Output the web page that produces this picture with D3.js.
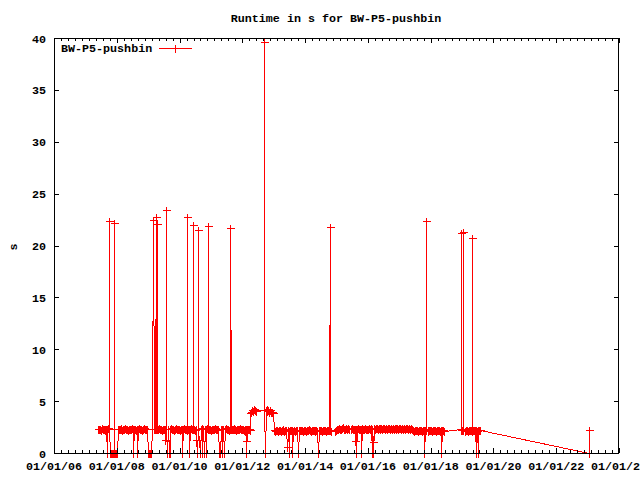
<!DOCTYPE html>
<html><head><meta charset="utf-8">
<script src="https://cdn.jsdelivr.net/npm/d3@7"></script>
<style>
body{margin:0;background:#fff}
text{font-family:"Liberation Mono","DejaVu Sans Mono",monospace;font-weight:bold;font-size:11.7px;fill:#000}
</style>
</head><body>
<svg id="c" width="640" height="480" xmlns="http://www.w3.org/2000/svg"></svg>
<script>
// ---- labels ----
const chartTitle = "Runtime in s for BW-P5-pushbin";
const seriesName = "BW-P5-pushbin";
const yAxisLabel = "s";
const xRange = [2006, 2024];           // years
const yRange = [0, 40];
const yTickValues = [0, 5, 10, 15, 20, 25, 30, 35, 40];
const xTickYears = [2006, 2008, 2010, 2012, 2014, 2016, 2018, 2020, 2022, 2024];

// ---- data: run dates (decimal years) and runtimes (s), per period ----
const dates2007to2012 = [
 2007.40,2007.43,2007.46,2007.49,2007.52,2007.55,2007.58,2007.61,2007.64,2007.67,
 2007.675,2007.70,2007.73,2007.748,2007.752,2007.756,2007.79,2007.82,2007.85,2007.88,
 2007.907,2007.911,2007.915,2007.94,2007.97,2008.00,2008.03,2008.06,2008.09,2008.12,
 2008.15,2008.18,2008.21,2008.24,2008.27,2008.30,2008.33,2008.36,2008.39,2008.42,
 2008.45,2008.48,2008.51,2008.525,2008.54,2008.57,2008.60,2008.63,2008.65,2008.66,
 2008.69,2008.72,2008.75,2008.78,2008.81,2008.84,2008.87,2008.90,2008.93,2008.96,
 2008.99,2009.02,2009.05,2009.08,2009.10,2009.12,2009.154,2009.185,2009.216,2009.249,
 2009.253,2009.277,2009.281,2009.285,2009.32,2009.35,2009.38,
 2009.41,2009.44,2009.47,2009.50,2009.53,2009.54,2009.564,2009.568,2009.572,2009.61,
 2009.62,2009.65,2009.68,2009.70,2009.71,2009.74,2009.77,2009.80,2009.83,2009.86,
 2009.89,2009.92,2009.95,2009.98,2010.01,2010.04,2010.07,2010.09,2010.10,2010.13,
 2010.16,2010.19,2010.22,2010.233,2010.237,2010.241,2010.28,2010.31,2010.315,2010.34,
 2010.37,2010.40,2010.424,2010.428,2010.432,2010.46,2010.49,2010.52,2010.525,2010.55,
 2010.583,2010.587,2010.591,2010.64,2010.67,2010.70,2010.73,2010.76,2010.79,2010.82,
 2010.83,2010.85,2010.88,2010.902,2010.906,2010.910,2010.94,2010.97,2011.00,2011.03,
 2011.06,2011.09,2011.12,2011.15,2011.18,2011.21,2011.24,2011.27,2011.30,2011.33,
 2011.35,2011.36,2011.39,2011.42,2011.45,2011.48,2011.51,2011.54,2011.57,2011.603,
 2011.607,2011.64,2011.66,2011.69,2011.72,2011.75,2011.78,
 2011.81,2011.84,2011.87,2011.90,2011.93,2011.96,2011.99,2012.02,2012.05,2012.08,
 2012.11,2012.12,2012.13,2012.14,2012.17,2012.20,2012.23
];
const times2007to2012 = [
 2.3,2.35,2.3,2.25,2.4,2.3,2.35,2.25,2.3,2.35,
 0,2.3,2.4,2.3,22.4,2.3,0,0,0,0,
 0,22.2,0,0,0,0,2.3,2.35,2.3,2.4,
 2.3,2.25,2.35,2.3,2.4,2.3,2.35,2.25,2.3,2.35,
 2.3,2.4,2.3,0,2.35,2.3,2.25,2.3,0,2.35,
 2.3,2.4,2.3,2.35,2.25,2.3,2.4,2.3,2.35,2.3,
 0,0,0,0,0,2.3,22.5,2.3,2.3,22.7,
 2.35,2.3,22.1,2.3,2.3,2.4,2.3,
 2.35,2.25,2.3,2.35,2.3,1.25,2.3,23.45,2.35,0,
 2.3,0,2.35,0,2.3,2.4,2.3,2.35,2.25,2.3,
 2.4,2.3,2.35,2.3,2.25,2.3,2.35,0,2.3,2.4,
 2.3,2.35,2.3,2.25,22.7,2.3,2.3,2.35,0,2.3,
 2.4,2.3,2.35,22.0,2.3,2.3,2.25,2.3,1.3,0,
 2.35,21.5,2.3,0,2.3,2.4,0,2.3,0,2.35,
 0,2.3,2.4,2.3,21.9,2.35,2.35,2.3,2.25,2.3,
 2.35,2.3,2.4,2.3,2.35,2.25,2.3,0,0,2.3,
 0,2.35,2.3,0,2.3,2.4,2.3,2.35,2.25,2.3,
 21.7,2.3,2.35,2.3,2.4,2.3,2.35,
 2.25,2.3,2.35,2.3,2.4,2.3,2.35,2.3,2.25,2.3,
 1.2,2.3,0,2.3,2.35,2.3,2.25
];
const dates2012to2013 = [
 2012.26,2012.29,2012.32,2012.35,2012.38,2012.41,2012.44,2012.686,2012.690,2012.694,
 2012.72,2012.74,2012.77,2012.80,2012.83,2012.86,2012.89,2012.92,2012.95,2012.98
];
const times2012to2013 = [
 3.9,4.0,4.1,4.05,4.2,4.1,4.05,4.1,39.6,4.1,
 0,4.1,4.2,4.05,4.1,4.0,4.15,4.0,3.95,3.85
];
const dates2013to2014 = [
 2013.01,2013.04,2013.07,2013.10,2013.13,2013.16,2013.19,2013.22,2013.25,2013.28,
 2013.31,2013.34,2013.37,2013.40,2013.43,2013.46,2013.48,2013.49,2013.52,2013.55,
 2013.58,2013.59,2013.61,2013.64,2013.67,2013.70,2013.73,2013.76,2013.79,2013.82,
 2013.85,2013.88,2013.91,2013.94,2013.97,2014.00,2014.03,2014.06,2014.09,2014.12,
 2014.15,2014.18,2014.21,2014.24,2014.27,2014.30,2014.33,2014.36,2014.39,2014.42,
 2014.45,2014.48,2014.51,2014.54,2014.57,2014.60,2014.63,2014.66,2014.69,2014.72,
 2014.76,2014.793,2014.797,2014.81
];
const times2013to2014 = [
 2.2,2.15,2.25,2.2,2.1,2.2,2.25,2.15,2.2,2.3,
 2.2,2.15,2.2,2.25,0.6,2.2,0,2.15,2.2,2.25,
 2.2,0,2.15,2.2,2.1,2.2,2.25,0,2.2,2.15,
 2.2,2.25,2.2,2.1,2.2,2.25,2.15,2.2,2.2,2.3,
 2.2,2.15,2.2,2.25,2.2,2.1,2.2,2.25,2.15,0,
 2.2,2.25,2.2,2.15,2.2,2.25,2.2,2.1,2.2,2.25,
 2.25,21.8,2.2,2.15
];
const dates2015to2017 = [
 2014.96,2014.99,2015.02,2015.05,2015.08,2015.11,2015.14,2015.17,2015.20,2015.23,
 2015.26,2015.29,2015.32,2015.35,2015.38,2015.41,2015.47,2015.50,2015.53,2015.56,
 2015.59,2015.60,2015.62,2015.63,2015.65,2015.68,2015.71,2015.74,2015.77,2015.78,
 2015.80,2015.83,2015.86,2015.89,2015.92,2015.95,2015.98,
 2016.01,2016.04,2016.07,2016.10,2016.12,2016.13,2016.16,2016.17,2016.19,2016.22,
 2016.25,2016.28,2016.31,2016.34,2016.37,2016.40,2016.43,2016.46,2016.49,2016.52,
 2016.55,2016.58,2016.61,2016.64,2016.67,2016.70,2016.73,2016.76,2016.79,2016.82,
 2016.85,2016.88,2016.91,2016.94,2016.97,2017.00,2017.03,2017.06,2017.09,2017.12,
 2017.15,2017.18,2017.21,2017.24,2017.27,2017.30,2017.33,2017.36,2017.39
];
const times2015to2017 = [
 2.1,2.2,2.3,2.35,2.45,2.35,2.3,2.4,2.5,2.35,
 2.3,2.45,2.35,2.3,2.4,2.3,2.35,2.4,2.3,2.35,
 2.3,1.15,2.35,0,2.3,2.4,2.35,2.3,2.35,0,
 2.4,2.3,2.35,2.3,2.4,2.35,2.3,
 2.35,2.4,2.35,2.4,0,2.35,1.1,0,2.4,2.35,
 2.45,2.4,2.35,2.4,2.45,2.35,2.4,2.35,2.4,2.45,
 2.35,2.4,2.35,2.4,2.45,2.35,2.4,2.35,2.4,2.35,
 2.45,2.4,2.35,2.4,2.35,2.4,2.45,2.35,2.4,2.35,
 2.4,2.35,2.4,2.45,2.35,2.4,2.35,2.4,2.35
];
const dates2017to2023 = [
 2017.42,2017.45,2017.48,2017.51,2017.54,2017.57,2017.60,2017.63,2017.66,2017.69,
 2017.72,2017.75,2017.78,2017.80,2017.81,2017.847,2017.851,2017.855,2017.90,2017.93,
 2017.96,2017.99,2018.02,2018.05,2018.08,2018.11,2018.14,2018.17,2018.20,2018.23,
 2018.26,2018.29,2018.32,2018.33,2018.35,2018.38,2018.41,
 2018.962,2018.966,2018.970,2019.00,2019.026,2019.030,2019.034,2019.08,2019.11,2019.14,
 2019.17,2019.20,2019.23,2019.26,2019.29,2019.312,2019.316,2019.320,2019.35,2019.38,
 2019.41,2019.43,2019.44,2019.47,2019.51,2019.52,2019.55,2019.58,
 2023.04,2023.05
];
const times2017to2023 = [
 2.2,2.25,2.15,2.2,2.25,2.2,2.1,2.2,2.25,2.2,
 2.15,2.2,2.25,0,2.2,2.3,22.4,2.25,2.2,2.15,
 2.2,2.25,2.2,2.1,2.2,2.25,2.2,2.15,2.2,2.25,
 2.2,2.1,2.2,0,2.25,2.2,2.15,
 2.3,21.2,2.25,2.2,2.2,21.3,2.2,2.15,2.2,2.25,
 2.2,2.15,2.2,2.25,2.2,2.2,20.7,2.15,2.2,2.25,
 2.2,0,2.2,2.15,0,2.2,2.25,2.2,
 0,2.2
];

const runDates = [].concat(dates2007to2012, dates2012to2013, dates2013to2014, dates2015to2017, dates2017to2023);
const runTimes = [].concat(times2007to2012, times2012to2013, times2013to2014, times2015to2017, times2017to2023);

// ---- layout ----
const L = 54, R = 619, T = 38, B = 453;
const svg = d3.select("#c");

function yearToDate(y){
  const yr = Math.floor(y);
  const s = Date.UTC(yr,0,1), e = Date.UTC(yr+1,0,1);
  return new Date(s + (y-yr)*(e-s));
}

const x = d3.scaleUtc().domain(xRange.map(yearToDate)).range([L, R]);
const y = d3.scaleLinear().domain(yRange).range([B, T]);

const n = Math.min(runDates.length, runTimes.length);
const data = d3.range(n).map(i=>({date: yearToDate(runDates[i]), v: runTimes[i]}));

svg.append("defs").append("clipPath").attr("id","plotclip")
  .append("rect").attr("x",L).attr("y",T).attr("width",R-L).attr("height",B-T);

const red = "#ff0000";
const px = v => Math.round(v)+0.5;

// line
const line = d3.line().x(d=>px(x(d.date))).y(d=>px(y(d.v)));
svg.append("path").datum(data)
  .attr("d", line).attr("fill","none").attr("stroke",red).attr("stroke-width",1)
  .attr("shape-rendering","crispEdges").attr("clip-path","url(#plotclip)");

// markers
const ms = 4;
svg.append("path")
  .attr("d", data.map(d=>{const cx=px(x(d.date)), cy=px(y(d.v));
     return `M${cx-ms},${cy}H${cx+ms}M${cx},${cy-ms}V${cy+ms}`;}).join(""))
  .attr("stroke",red).attr("stroke-width",1).attr("fill","none")
  .attr("shape-rendering","crispEdges");

// border and ticks (front)
const ax = svg.append("g").attr("shape-rendering","crispEdges").attr("stroke","#000").attr("stroke-width",1);
ax.append("rect").attr("x",L+0.5).attr("y",T+0.5).attr("width",R-L-1).attr("height",B-T).attr("fill","none");

const majorLen = 5, minorLen = 3;
yTickValues.forEach(v=>{
  const yy = px(y(v));
  ax.append("line").attr("x1",L).attr("x2",L+majorLen).attr("y1",yy).attr("y2",yy);
  ax.append("line").attr("x1",R-majorLen).attr("x2",R).attr("y1",yy).attr("y2",yy);
});
const xMajor = xTickYears.map(yearToDate);
xMajor.forEach(d=>{
  const xx = px(x(d));
  ax.append("line").attr("x1",xx).attr("x2",xx).attr("y1",B).attr("y2",B-majorLen);
  ax.append("line").attr("x1",xx).attr("x2",xx).attr("y1",T).attr("y2",T+majorLen);
});
const xMinor = d3.range(0, 81).map(k=>yearToDate(xRange[0] + k*2/9)).filter(d=>d < x.domain()[1]);
xMinor.forEach(d=>{
  const xx = px(x(d));
  ax.append("line").attr("x1",xx).attr("x2",xx).attr("y1",B).attr("y2",B-minorLen);
  ax.append("line").attr("x1",xx).attr("x2",xx).attr("y1",T).attr("y2",T+minorLen);
});

// labels
const fmt = d3.utcFormat("%m/%d/%y");
svg.append("g").selectAll("text").data(xMajor).join("text")
  .attr("x", d=>x(d)).attr("y", 470).attr("text-anchor","middle").text(d=>fmt(d));
svg.append("g").selectAll("text").data(yTickValues).join("text")
  .attr("x", 46).attr("y", d=>y(d)+4.5).attr("text-anchor","end").text(d=>d);

svg.append("text").attr("x",336).attr("y",22).attr("text-anchor","middle").text(chartTitle);
svg.append("text").attr("transform","translate(17,247) rotate(-90)").attr("text-anchor","middle").text(yAxisLabel);

// legend
svg.append("text").attr("x",61).attr("y",52).text(seriesName);
const ly = 48.5;
svg.append("path").attr("d",`M159,${ly}H192M175.5,${ly-4}V${ly+4}`)
  .attr("stroke",red).attr("stroke-width",1).attr("shape-rendering","crispEdges");
</script>
</body></html>
